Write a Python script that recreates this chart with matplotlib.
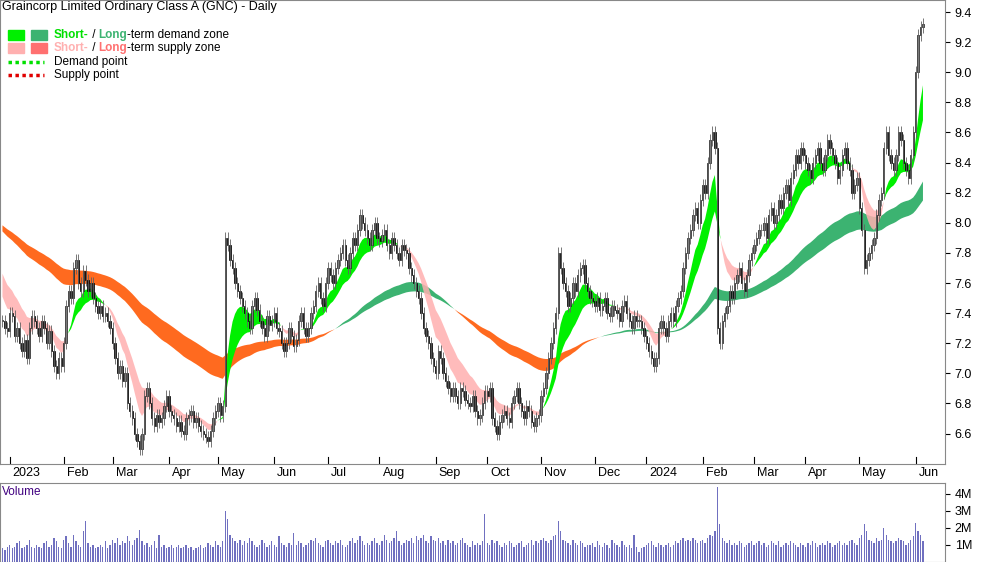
import numpy as np
import pandas as pd
import matplotlib
matplotlib.use('Agg')
import matplotlib.pyplot as plt
from matplotlib.patches import Rectangle

plt.rcParams['font.family'] = ['Liberation Sans', 'DejaVu Sans']

# closes before the visible window (only used to warm up the zones)
history = [
    8.10, 8.05, 8.00, 8.10, 8.05, 8.00, 7.95, 7.90, 7.95, 7.85,
    7.80, 7.85, 7.75, 7.70, 7.60, 7.55, 7.50, 7.45, 7.40, 7.35,
]

# daily closes, one row per week (Mon-Fri)
closes = [
    7.35, 7.30, 7.28, 7.40, 7.38, 7.25, 7.30, 7.20, 7.15, 7.22,
    7.10, 7.30, 7.38, 7.35, 7.30, 7.25, 7.35, 7.30, 7.20, 7.28,
    7.15, 7.05, 7.00, 7.10, 7.05, 7.20, 7.45, 7.55, 7.50, 7.70,
    7.75, 7.60, 7.55, 7.68, 7.62, 7.55, 7.60, 7.50, 7.45, 7.40,
    7.45, 7.38, 7.40, 7.35, 7.30, 7.20, 7.10, 7.00, 7.05, 6.95,
    7.00, 6.80, 6.75, 6.70, 6.60, 6.55, 6.50, 6.60, 6.85, 6.90,
    6.80, 6.70, 6.65, 6.72, 6.68, 6.70, 6.78, 6.85, 6.75, 6.72,
    6.70, 6.65, 6.68, 6.62, 6.60, 6.70, 6.72, 6.75, 6.68, 6.70,
    6.65, 6.62, 6.60, 6.58, 6.55, 6.62, 6.70, 6.75, 6.80, 6.72,
    6.78, 7.90, 7.85, 7.75, 7.70, 7.60, 7.55, 7.50, 7.45, 7.40,
    7.35, 7.30, 7.45, 7.50, 7.42, 7.35, 7.30, 7.25, 7.38, 7.32,
    7.35, 7.40, 7.30, 7.28, 7.20, 7.15, 7.20, 7.30, 7.25, 7.18,
    7.22, 7.35, 7.40, 7.30, 7.25, 7.30, 7.40, 7.45, 7.55, 7.60,
    7.50, 7.45, 7.60, 7.70, 7.65, 7.60, 7.70, 7.75, 7.80, 7.85,
    7.75, 7.70, 7.80, 7.90, 7.85, 7.95, 8.05, 8.00, 7.95, 7.90,
    7.85, 7.95, 8.00, 7.90, 7.88, 7.92, 7.95, 7.85, 7.80, 7.90,
    7.85, 7.80, 7.75, 7.85, 7.82, 7.80, 7.70, 7.65, 7.60, 7.55,
    7.50, 7.40, 7.30, 7.25, 7.20, 7.10, 7.05, 7.00, 7.15, 7.10,
    7.00, 6.95, 6.90, 6.85, 6.90, 6.85, 6.80, 6.90, 6.88, 6.82,
    6.80, 6.78, 6.85, 6.75, 6.70, 6.72, 6.80, 6.88, 6.85, 6.90,
    6.70, 6.65, 6.60, 6.68, 6.72, 6.75, 6.70, 6.68, 6.80, 6.85,
    6.90, 6.80, 6.75, 6.70, 6.78, 6.75, 6.68, 6.65, 6.70, 6.72,
    6.85, 6.90, 7.00, 7.10, 7.20, 7.30, 7.40, 7.80, 7.70, 7.60,
    7.55, 7.45, 7.50, 7.60, 7.55, 7.65, 7.70, 7.72, 7.60, 7.55,
    7.50, 7.48, 7.45, 7.50, 7.42, 7.45, 7.50, 7.40, 7.38, 7.45,
    7.42, 7.40, 7.35, 7.45, 7.48, 7.40, 7.35, 7.30, 7.38, 7.35,
    7.35, 7.30, 7.25, 7.20, 7.15, 7.10, 7.05, 7.10, 7.30, 7.35,
    7.30, 7.25, 7.35, 7.40, 7.35, 7.45, 7.50, 7.55, 7.70, 7.80,
    7.90, 7.95, 8.05, 8.10, 8.00, 8.15, 8.25, 8.20, 8.40, 8.55,
    8.60, 8.50, 7.30, 7.20, 7.35, 7.40, 7.45, 7.55, 7.50, 7.60,
    7.65, 7.70, 7.60, 7.55, 7.65, 7.75, 7.80, 7.85, 7.90, 7.95,
    7.95, 8.00, 7.90, 8.05, 8.10, 8.00, 8.05, 8.15, 8.10, 8.20,
    8.25, 8.15, 8.30, 8.35, 8.45, 8.40, 8.50, 8.45, 8.40, 8.35,
    8.30, 8.40, 8.45, 8.50, 8.40, 8.35, 8.45, 8.55, 8.50, 8.45,
    8.40, 8.30, 8.35, 8.45, 8.50, 8.40, 8.35, 8.20, 8.25, 8.30,
    8.10, 7.95, 7.70, 7.75, 7.80, 7.85, 7.90, 8.05, 8.15, 8.20,
    8.50, 8.60, 8.45, 8.40, 8.35, 8.45, 8.60, 8.55, 8.40, 8.35,
    8.30, 8.45, 8.60, 9.00, 9.25, 9.30, 9.32,
]

# daily volume in millions, same layout
volumes = [
    0.8, 0.7, 0.9, 1.0, 0.8, 0.9, 1.1, 1.2, 0.8, 0.9,
    1.0, 1.3, 0.9, 0.8, 1.0, 0.9, 0.8, 1.1, 1.2, 0.9,
    1.0, 1.4, 1.2, 0.9, 0.8, 1.3, 1.5, 1.1, 0.9, 1.6,
    1.2, 1.0, 0.9, 1.8, 2.4, 1.1, 0.9, 1.0, 0.8, 0.9,
    1.0, 0.9, 1.2, 0.8, 1.0, 1.3, 1.1, 1.4, 1.0, 1.2,
    1.1, 1.5, 1.2, 1.0, 1.3, 1.4, 1.9, 1.2, 1.0, 1.1,
    0.9, 1.0, 1.2, 0.8, 1.6, 0.9, 1.0, 0.8, 0.9, 1.0,
    0.8, 0.9, 1.0, 0.8, 0.9, 1.0, 0.8, 0.9, 0.7, 0.8,
    0.9, 1.0, 0.8, 0.9, 1.1, 1.0, 0.9, 1.2, 1.0, 0.9,
    1.2, 3.0, 2.5, 1.6, 1.4, 1.2, 1.1, 1.3, 1.0, 1.2,
    1.1, 1.4, 1.2, 1.0, 0.9, 1.0, 1.3, 1.1, 0.9, 1.0,
    1.2, 1.0, 0.9, 1.5, 1.1, 1.0, 0.9, 1.1, 1.0, 1.7,
    1.0, 1.2, 1.1, 0.9, 1.0, 1.1, 1.3, 1.2, 1.4, 1.1,
    1.0, 0.9, 1.2, 1.3, 1.1, 1.0, 1.2, 1.1, 1.3, 1.0,
    0.9, 1.0, 1.2, 1.4, 1.1, 1.3, 1.5, 1.2, 1.0, 1.1,
    1.0, 1.2, 1.4, 1.1, 1.0, 1.2, 1.6, 1.3, 1.1, 1.2,
    1.4, 1.8, 1.2, 1.0, 1.1, 1.3, 1.2, 1.4, 1.1, 1.5,
    1.3, 1.4, 1.6, 1.2, 1.1, 1.5, 1.3, 1.2, 1.4, 1.1,
    1.2, 1.0, 1.3, 1.1, 1.2, 1.0, 1.1, 1.3, 1.4, 1.1,
    1.0, 0.9, 1.2, 1.0, 1.1, 1.0, 1.2, 2.8, 1.1, 1.0,
    1.3, 1.1, 1.2, 1.0, 0.9, 1.1, 1.0, 1.2, 1.1, 0.9,
    1.0, 1.1, 1.2, 0.9, 1.0, 1.1, 1.3, 1.0, 1.2, 1.1,
    1.3, 1.4, 1.2, 1.1, 1.3, 1.5, 1.6, 2.4, 1.8, 1.3,
    1.2, 1.1, 1.0, 1.3, 1.1, 1.0, 1.2, 1.1, 0.9, 1.0,
    1.0, 1.1, 0.9, 1.2, 1.0, 0.9, 1.1, 1.0, 0.8, 1.3,
    1.1, 1.0, 0.9, 1.2, 1.0, 0.9, 1.0, 0.8, 1.6, 0.9,
    0.6, 0.8, 0.9, 1.0, 1.1, 1.2, 1.0, 0.9, 1.1, 1.0,
    0.9, 1.0, 1.1, 0.9, 1.0, 1.2, 1.1, 1.3, 1.4, 1.2,
    1.3, 1.2, 1.4, 1.3, 1.1, 1.2, 1.3, 1.1, 1.4, 1.6,
    1.5, 1.8, 4.4, 2.2, 1.4, 1.2, 1.1, 1.3, 1.0, 1.1,
    1.0, 1.2, 1.1, 0.9, 1.0, 1.1, 1.2, 1.0, 1.1, 1.2,
    1.0, 1.1, 0.9, 1.0, 1.2, 1.1, 1.0, 1.2, 0.9, 1.0,
    1.1, 1.0, 1.2, 1.1, 1.0, 0.9, 1.1, 1.0, 0.9, 1.1,
    1.0, 1.2, 1.1, 0.9, 1.0, 1.1, 1.0, 1.2, 1.1, 0.9,
    1.0, 1.1, 1.2, 1.0, 1.1, 1.0, 1.2, 1.3, 1.1, 1.0,
    1.4, 1.6, 2.2, 1.8, 1.3, 1.2, 1.1, 1.4, 1.2, 1.3,
    2.0, 1.6, 1.3, 1.2, 1.1, 1.2, 1.4, 1.3, 1.2, 1.0,
    1.1, 1.3, 1.5, 2.3, 1.8, 1.6, 1.2,
]

dates = pd.bdate_range('2022-12-28', periods=len(closes))
month_labels = ['2023', 'Feb', 'Mar', 'Apr', 'May', 'Jun', 'Jul', 'Aug', 'Sep',
                'Oct', 'Nov', 'Dec', '2024', 'Feb', 'Mar', 'Apr', 'May', 'Jun']

c = np.array(closes)
o = np.concatenate([[c[0]], c[:-1]])
h = np.maximum(o, c) + 0.04
l = np.minimum(o, c) - 0.04
x = np.arange(len(c))

# zones from moving averages, warmed up on the earlier closes
n_hist = len(history)
s = pd.Series(history + closes)
st_fast = s.ewm(span=9, adjust=False).mean().values[n_hist:]
st_slow = s.ewm(span=18, adjust=False).mean().values[n_hist:]
lt_fast = s.ewm(span=75, adjust=False).mean().values[n_hist:]
lt_slow = s.ewm(span=105, adjust=False).mean().values[n_hist:]

fig = plt.figure(figsize=(10, 5.62), dpi=100)
ax = fig.add_axes([0.0, 0.175, 0.945, 0.825])
axv = fig.add_axes([0.0, 0.0, 0.945, 0.14], sharex=ax)

up_lt = lt_fast >= lt_slow
ax.fill_between(x, lt_fast, lt_slow, where=up_lt, color='#3cb371', lw=0, interpolate=True)
ax.fill_between(x, lt_fast, lt_slow, where=~up_lt, color='#ff6a1f', lw=0, interpolate=True)
up_st = st_fast >= st_slow
ax.fill_between(x, st_fast, st_slow, where=up_st, color='#00f000', lw=0, interpolate=True)
ax.fill_between(x, st_fast, st_slow, where=~up_st, color='#ffb0b0', lw=0, interpolate=True,
                alpha=0.85)

w = 0.55
for i in x:
    ax.vlines(i, l[i], h[i], color='#606060', lw=0.6)
    bottom = min(o[i], c[i])
    height = max(abs(c[i] - o[i]), 0.005)
    face = 'white' if c[i] >= o[i] else 'black'
    ax.add_patch(Rectangle((i - w / 2, bottom), w, height, facecolor=face,
                           edgecolor='black', lw=0.5))

ax.set_xlim(-1, len(c) + 8)
ax.set_ylim(6.4, 9.48)
ax.yaxis.tick_right()
yt = np.arange(6.6, 9.41, 0.2)
ax.set_yticks(yt)
ax.set_yticklabels([f'{v:.1f}' for v in yt], fontsize=9)
ax.tick_params(axis='x', bottom=False, labelbottom=False)
for sp in ax.spines.values():
    sp.set_color('#888888')

# month ticks
starts = [i for i in range(1, len(dates)) if dates[i].month != dates[i - 1].month]
for i, lab in zip(starts, month_labels):
    fig.text(ax.transData.transform((i, 0))[0] / 1000 + 0.003, 0.148, lab,
             fontsize=9, ha='left', va='bottom')
    ax.axvline(i, ymin=0, ymax=0.015, color='black', lw=0.8)

ax.text(0.002, 0.997, 'Graincorp Limited Ordinary Class A (GNC) - Daily',
        transform=ax.transAxes, fontsize=9, va='top')

fig.canvas.draw()
renderer = fig.canvas.get_renderer()


def run_text(x0, y0, parts):
    # parts drawn one after another on a line, in figure pixels
    xp = x0
    for txt, col, bold in parts:
        t = fig.text(xp / 1000, y0 / 562, txt, fontsize=8.5, color=col, va='center',
                     fontweight='bold' if bold else 'normal')
        xp += t.get_window_extent(renderer).width


rows = [
    ('#00f000', '#3cb371', [('Short-', '#00e000', True), (' / ', 'black', False),
                            ('Long', '#3cb371', True), ('-term demand zone', 'black', False)]),
    ('#ffb0b0', '#ff7070', [('Short-', '#ffb0b0', True), (' / ', 'black', False),
                            ('Long', '#ff7070', True), ('-term supply zone', 'black', False)]),
]
for k, (c1, c2, parts) in enumerate(rows):
    yc = 562 - 35 - k * 13
    fig.patches.append(Rectangle((8 / 1000, (yc - 5) / 562), 16 / 1000, 10 / 562,
                                 transform=fig.transFigure, color=c1))
    fig.patches.append(Rectangle((31 / 1000, (yc - 5) / 562), 16 / 1000, 10 / 562,
                                 transform=fig.transFigure, color=c2))
    run_text(54, yc, parts)
for k, (col, lab) in enumerate([('#00e000', 'Demand point'), ('#e00000', 'Supply point')]):
    yc = 562 - 62 - k * 13
    fig.lines.append(plt.Line2D([8 / 1000, 44 / 1000], [yc / 562, yc / 562],
                                transform=fig.transFigure, color=col, lw=2.5,
                                ls=(0, (1, 1))))
    run_text(54, yc, [(lab, 'black', False)])

axv.bar(x, volumes, width=0.55, color='#7070c0')
axv.set_ylim(0, 4.6)
axv.yaxis.tick_right()
axv.set_yticks([1, 2, 3, 4])
axv.set_yticklabels(['1M', '2M', '3M', '4M'], fontsize=9)
axv.tick_params(axis='x', bottom=False, labelbottom=False)
axv.text(0.002, 0.97, 'Volume', transform=axv.transAxes, fontsize=8.5, va='top', color='#400080')
for sp in axv.spines.values():
    sp.set_color('#888888')

fig.savefig('out.png', dpi=100)
